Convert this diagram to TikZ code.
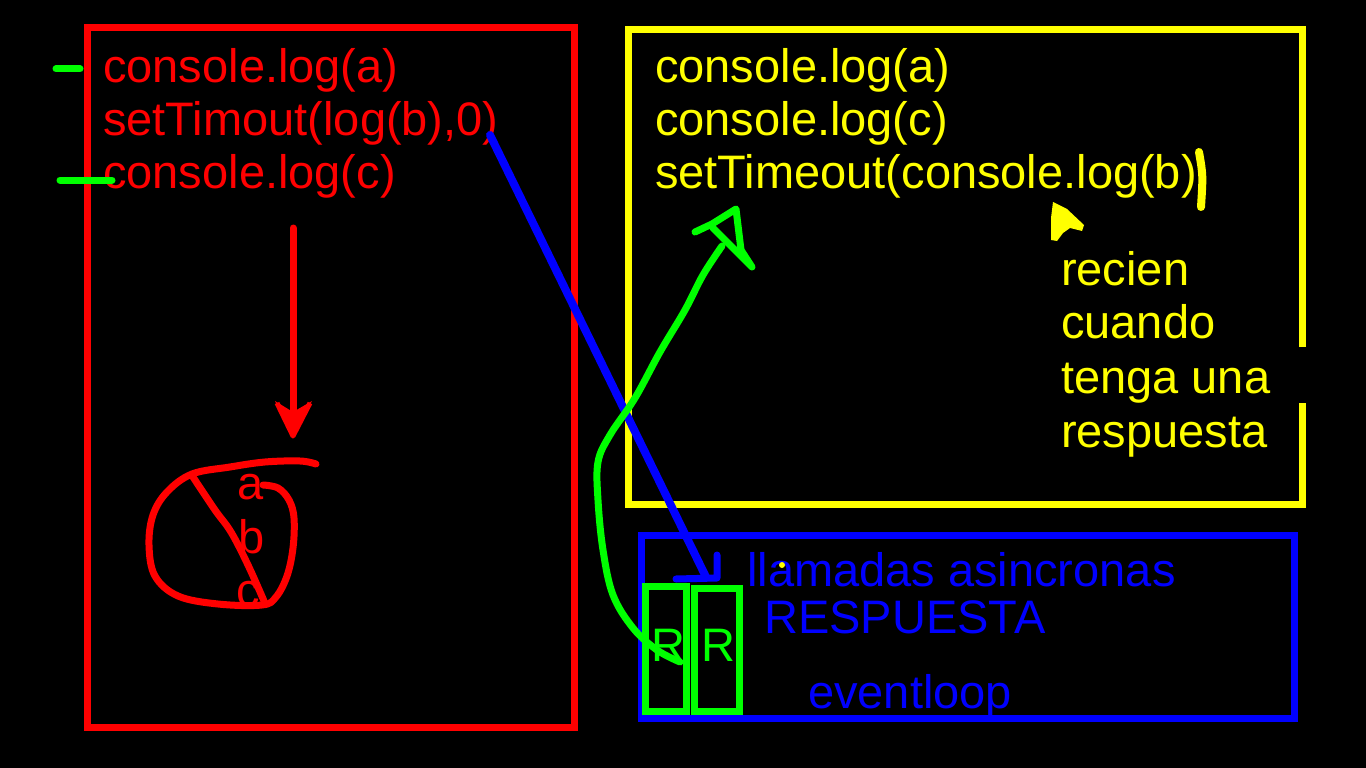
\documentclass[tikz,border=0pt]{standalone}
\usepackage{fontspec}
\setmainfont{Liberation Sans}
\begin{document}
\begin{tikzpicture}[x=1pt,y=-1pt,
  txt/.style={anchor=base west,inner sep=0pt,font=\fontsize{47}{50}\selectfont},
  redtxt/.style={txt,text={rgb,255:red,255;green,0;blue,0}},
  yeltxt/.style={txt,text={rgb,255:red,255;green,255;blue,0}},
  bluetxt/.style={txt,text={rgb,255:red,0;green,0;blue,255}},
  greentxt/.style={txt,text={rgb,255:red,0;green,255;blue,0}},
  pen/.style={line width=7pt,line cap=round,line join=round},
]
\definecolor{R}{RGB}{255,0,0}
\definecolor{Y}{RGB}{255,255,0}
\definecolor{B}{RGB}{0,0,255}
\definecolor{G}{RGB}{0,255,0}
\useasboundingbox (0,0) rectangle (1366,768);
\fill[black] (0,0) rectangle (1366,768);

% boxes
\draw[R,line width=7pt] (87,28) rectangle (574,727);
\draw[Y,line width=7pt] (1302,347) -- (1302,30) -- (628,30) -- (628,504) -- (1302,504) -- (1302,403);
\draw[B,line width=7pt] (641,535) rectangle (1294,718);
\draw[G,line width=7pt] (645,586) rectangle (686,711);
\draw[G,line width=7pt] (694,588) rectangle (739,711);

% red text
\node[redtxt] (r1) at (103,82) {console.log(a)};
\node[redtxt] (r2) at (103,135) {setTimout(log(b),0)};
\node[redtxt] (r3) at (103,188) {console.log(c)};
\node[redtxt] (ca) at (237,499) {a};
\node[redtxt] (cb) at (238,553) {b};
\node[redtxt] (cc) at (236,606) {c};

% yellow text
\node[yeltxt] (y1) at (655,82) {console.log(a)};
\node[yeltxt] (y2) at (655,135) {console.log(c)};
\node[yeltxt] (y3) at (655,188) {setTimeout(console.log(b)};
\node[yeltxt] (y4) at (1061,285) {recien};
\node[yeltxt] (y5) at (1061,338) {cuando};
\node[yeltxt] (y6) at (1061,393) {tenga una};
\node[yeltxt] (y7) at (1061,447) {respuesta};

% blue text
\node[bluetxt] (b1) at (747,586) {llamadas asincronas};
\node[bluetxt] (b2) at (764,633) {RESPUESTA};
\node[bluetxt] (b3) at (808,708) {eventloop};

% green R
\node[greentxt] (g1) at (651,661) {R};
\node[greentxt] (g2) at (701,661) {R};

% green ticks
\draw[G,pen] (56,69) -- (80,69);
\draw[G,pen] (60,180) -- (112,180);

% red arrow
\draw[R,pen] (293,228) -- (293,415);
\fill[R] (275,401) -- (293,438) -- (312,401) -- (293,412) -- cycle;
\draw[R,line width=5pt,line join=round] (277,403) -- (293,436) -- (310,403);

% red loop
\draw[R,pen] plot[smooth,tension=0.6] coordinates {(263,485) (278,488) (289,500) (294,518) (293,548) (287,576) (276,597) (262,605) (218,604) (178,596) (155,576) (149,545) (153,515) (167,492) (192,474) (230,467) (265,462) (300,461) (316,464)};
\draw[R,pen] plot[smooth,tension=0.6] coordinates {(193,477) (215,510) (231,532) (248,565) (264,601)};

% blue line
\coordinate (bs) at (490,135);
\coordinate (be) at (706,577);
\draw[B,pen,line width=8pt] (bs) -- (be);
\draw[B,pen] (717,555) -- (717,578) -- (676,579);

% green arrow
\draw[G,pen] plot[smooth,tension=0.6] coordinates {(680,662) (657,650) (633,628) (613,595) (603,550) (598,500) (598,462) (610,435) (635,398) (660,352) (685,310) (703,275) (722,246)};
\draw[G,pen] (695,232) -- (712,224) -- (736,209) -- (741,250) -- (752,267) -- (713,228);

% yellow marks
\draw[Y,pen,line width=8pt] (1199,152) .. controls (1203,175) .. (1201,207);
\fill[Y] (1053,202) -- (1067,209) -- (1084,225) -- (1082,231) -- (1070,228) -- (1063,233) -- (1057,241) -- (1051,240) -- (1051,218) -- cycle;
\fill[Y] (782,565) circle (3);
\end{tikzpicture}
\end{document}
